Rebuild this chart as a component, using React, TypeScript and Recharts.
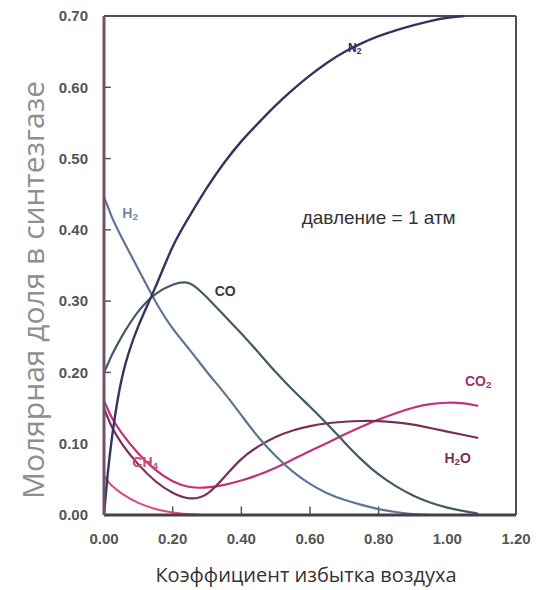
import React from 'react';
import { LineChart, Line, XAxis, YAxis, ReferenceLine, ReferenceDot } from 'recharts';

// коэффициент избытка воздуха (общая сетка по оси X)
const alpha = [0, 0.01, 0.02, 0.05, 0.1, 0.15, 0.2, 0.25, 0.3, 0.35, 0.4, 0.45, 0.5, 0.55, 0.6, 0.65, 0.7, 0.75, 0.8, 0.85, 0.9, 0.95, 1.0, 1.05, 1.09];

// мольные доли компонентов синтезгаза
const n2 = [0, 0.055, 0.1, 0.2, 0.268, 0.318, 0.38, 0.42, 0.46, 0.495, 0.525, 0.55, 0.575, 0.597, 0.617, 0.635, 0.65, 0.662, 0.672, 0.68, 0.687, 0.693, 0.698, 0.7, null];
const h2 = [0.445, 0.435, 0.42, 0.39, 0.345, 0.298, 0.26, 0.232, 0.2, 0.172, 0.14, 0.108, 0.082, 0.06, 0.043, 0.03, 0.021, 0.014, 0.008, 0.004, 0.001, 0, null, null, null];
const co = [0.2, 0.21, 0.222, 0.25, 0.288, 0.312, 0.324, 0.33, 0.305, 0.28, 0.255, 0.228, 0.2, 0.175, 0.152, 0.128, 0.102, 0.077, 0.056, 0.04, 0.027, 0.017, 0.01, 0.005, 0.002];
const co2 = [0.16, 0.15, 0.138, 0.115, 0.085, 0.062, 0.046, 0.038, 0.038, 0.042, 0.048, 0.056, 0.066, 0.078, 0.09, 0.101, 0.113, 0.124, 0.134, 0.143, 0.151, 0.156, 0.158, 0.157, 0.153];
const h2o = [0.15, 0.138, 0.125, 0.1, 0.07, 0.046, 0.03, 0.021, 0.026, 0.053, 0.08, 0.097, 0.11, 0.119, 0.125, 0.129, 0.131, 0.132, 0.132, 0.13, 0.127, 0.122, 0.117, 0.112, 0.108];
const ch4 = [0.055, 0.048, 0.042, 0.03, 0.016, 0.008, 0.003, 0.001, 0, null, null, null, null, null, null, null, null, null, null, null, null, null, null, null, null];

const xTicks = [0, 0.2, 0.4, 0.6, 0.8, 1.0, 1.2];
const yTicks = [0, 0.1, 0.2, 0.3, 0.4, 0.5, 0.6, 0.7];
// короткие внутренние риски
const yInnerTicks = [0.2, 0.3, 0.4, 0.5, 0.6];
const xInnerTicks = [0.2, 0.4, 0.6, 0.8];

const data = alpha.map((x, i) => ({
  x,
  n2: n2[i],
  h2: h2[i],
  co: co[i],
  co2: co2[i],
  h2o: h2o[i],
  ch4: ch4[i],
}));

const tickStyle = {
  fontFamily: 'Liberation Sans, Arial, sans-serif',
  fontSize: 15,
  fontWeight: 700,
  fill: '#555',
};

function formula(base: string, sub: string | null, color: string, rest = '', size = 13) {
  return (props: any) => (
    <text
      x={props.cx}
      y={props.cy}
      textAnchor="middle"
      dominantBaseline="central"
      fontFamily="Liberation Sans, Arial, sans-serif"
      fontWeight={700}
      fontSize={size}
      fill={color}
    >
      {base}
      {sub && (
        <tspan fontSize={size * 0.7} dy={3}>
          {sub}
        </tspan>
      )}
      {rest && <tspan dy={sub ? -3 : 0}>{rest}</tspan>}
    </text>
  );
}

export default function App() {
  return (
    <div style={{ position: 'absolute', left: 0, top: 0, width: 537, height: 590, background: '#fff' }}>
      <LineChart width={537} height={590} data={data} margin={{ top: 16, right: 21, bottom: 0, left: 0 }}>
        <XAxis
          dataKey="x"
          type="number"
          domain={[0, 1.2]}
          ticks={xTicks}
          tickFormatter={(v) => v.toFixed(2)}
          tick={tickStyle}
          tickLine={false}
          tickMargin={12}
          axisLine={{ stroke: '#4d3a4a', strokeWidth: 3 }}
          height={75}
          label={{
            content: () => (
              <text
                x={306}
                y={582}
                textAnchor="middle"
                fontFamily="Open Sans, sans-serif"
                fontSize={20}
                fill="#333"
              >
                Коэффициент избытка воздуха
              </text>
            ),
          }}
        />
        <YAxis
          type="number"
          domain={[0, 0.7]}
          ticks={yTicks}
          tickFormatter={(v) => v.toFixed(2)}
          tick={tickStyle}
          tickLine={false}
          tickMargin={10}
          axisLine={{ stroke: '#6e5468', strokeWidth: 3 }}
          width={104}
          label={{
            content: () => (
              <text
                x={0}
                y={0}
                transform="translate(44 290) rotate(-90)"
                textAnchor="middle"
                fontFamily="Open Sans, sans-serif"
                fontSize={30}
                fill="#8f8f8f"
              >
                Молярная  доля в синтезгазе
              </text>
            ),
          }}
        />
        <ReferenceLine y={0.7} stroke="#5a4a5a" strokeWidth={2} />
        <ReferenceLine x={1.2} stroke="#5a4a5a" strokeWidth={2} />
        {yInnerTicks.map((t) => (
          <ReferenceLine key={'y' + t} segment={[{ x: 0, y: t }, { x: 0.02, y: t }]} stroke="#555" strokeWidth={1.5} />
        ))}
        {xInnerTicks.map((t) => (
          <ReferenceLine key={'x' + t} segment={[{ x: t, y: 0 }, { x: t, y: 0.012 }]} stroke="#555" strokeWidth={1.5} />
        ))}

        <Line type="basis" dataKey="ch4" stroke="#d84a80" strokeWidth={2} dot={false} isAnimationActive={false} />
        <Line type="basis" dataKey="co2" stroke="#c4307a" strokeWidth={2.2} dot={false} isAnimationActive={false} />
        <Line type="basis" dataKey="h2o" stroke="#7a2e5a" strokeWidth={2.2} dot={false} isAnimationActive={false} />
        <Line type="basis" dataKey="h2" stroke="#5e7596" strokeWidth={2.2} dot={false} isAnimationActive={false} />
        <Line type="basis" dataKey="co" stroke="#445a63" strokeWidth={2.2} dot={false} isAnimationActive={false} />
        <Line type="basis" dataKey="n2" stroke="#35345f" strokeWidth={2.4} dot={false} isAnimationActive={false} />

        <ReferenceDot x={0.73} y={0.655} r={0} shape={formula('N', '2', '#2b2a70', '', 12)} />
        <ReferenceDot x={0.076} y={0.424} r={0} shape={formula('H', '2', '#7088a8', '', 14)} />
        <ReferenceDot x={0.353} y={0.314} r={0} shape={formula('CO', null, '#3a3a3a', '', 14)} />
        <ReferenceDot x={1.09} y={0.188} r={0} shape={formula('CO', '2', '#a0306a', '', 14)} />
        <ReferenceDot x={1.03} y={0.08} r={0} shape={formula('H', '2', '#7a2e5a', 'O', 14)} />
        <ReferenceDot x={0.12} y={0.074} r={0} shape={formula('CH', '4', '#d04478', '', 14)} />
        <ReferenceDot
          x={0.8}
          y={0.417}
          r={0}
          shape={(p: any) => (
            <text
              x={p.cx}
              y={p.cy}
              textAnchor="middle"
              dominantBaseline="central"
              fontFamily="Liberation Sans, Arial, sans-serif"
              fontSize={19}
              fill="#333"
            >
              давление = 1 атм
            </text>
          )}
        />
      </LineChart>
    </div>
  );
}
